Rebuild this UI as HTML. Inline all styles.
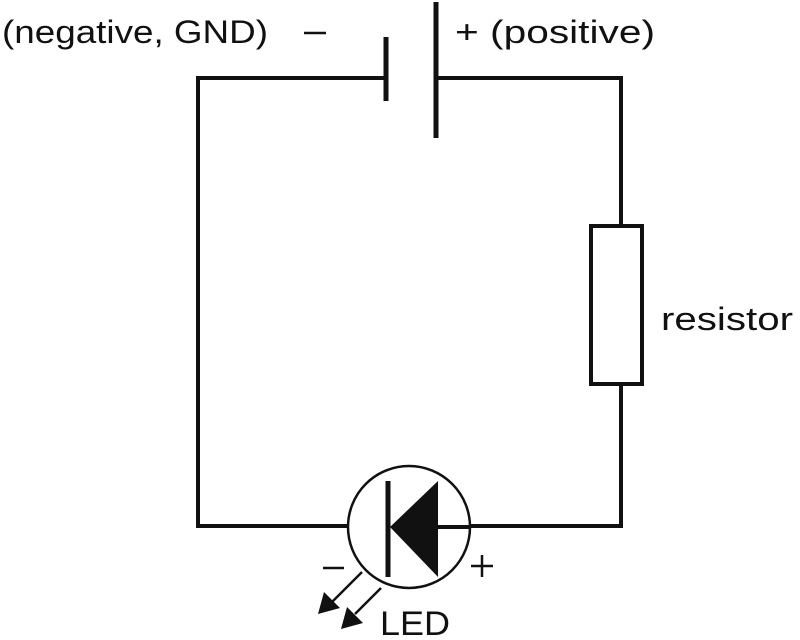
<!DOCTYPE html>
<html><head><style>
html,body{margin:0;padding:0;background:#fff;width:800px;height:640px;overflow:hidden}
text{font-family:"Liberation Sans",sans-serif;fill:#111}
</style></head><body>
<svg width="800" height="640" viewBox="0 0 800 640" xmlns="http://www.w3.org/2000/svg">
<g stroke="#111" fill="none" stroke-width="4">
<polyline points="386,78 198,78 198,526 348,526"/>
<polyline points="436,78 621,78 621,226"/>
<polyline points="621,385 621,526 470,526"/>
<rect x="591" y="226" width="51" height="158"/>
</g>
<line x1="386" y1="37" x2="386" y2="101" stroke="#111" stroke-width="5"/>
<line x1="436" y1="2" x2="436" y2="138" stroke="#111" stroke-width="5"/>
<circle cx="409" cy="527" r="61" fill="none" stroke="#111" stroke-width="2.5"/>
<line x1="388" y1="481" x2="388" y2="577" stroke="#111" stroke-width="5"/>
<polygon points="390,527 438,481 438,577" fill="#111"/>
<line x1="438" y1="527" x2="470" y2="527" stroke="#111" stroke-width="4"/>
<g stroke="#111" stroke-width="2.5">
<line x1="362" y1="572" x2="332" y2="602"/>
<line x1="381" y1="588" x2="355" y2="614"/>
<line x1="304" y1="33" x2="326" y2="33"/>
<line x1="323" y1="568" x2="344" y2="568"/>
<line x1="471" y1="566" x2="493" y2="566"/>
<line x1="482" y1="555" x2="482" y2="577"/>
</g>
<polygon points="318,614 324,592 340,608" fill="#111"/>
<polygon points="341,629 347,607 363,623" fill="#111"/>
<text x="2" y="43" font-size="32" textLength="266" lengthAdjust="spacingAndGlyphs">(negative, GND)</text>
<text x="455" y="43" font-size="32" textLength="200" lengthAdjust="spacingAndGlyphs">+ (positive)</text>
<text x="661" y="330" font-size="32" textLength="132" lengthAdjust="spacingAndGlyphs">resistor</text>
<text x="380" y="635" font-size="34" textLength="70" lengthAdjust="spacingAndGlyphs">LED</text>
</svg>
</body></html>
